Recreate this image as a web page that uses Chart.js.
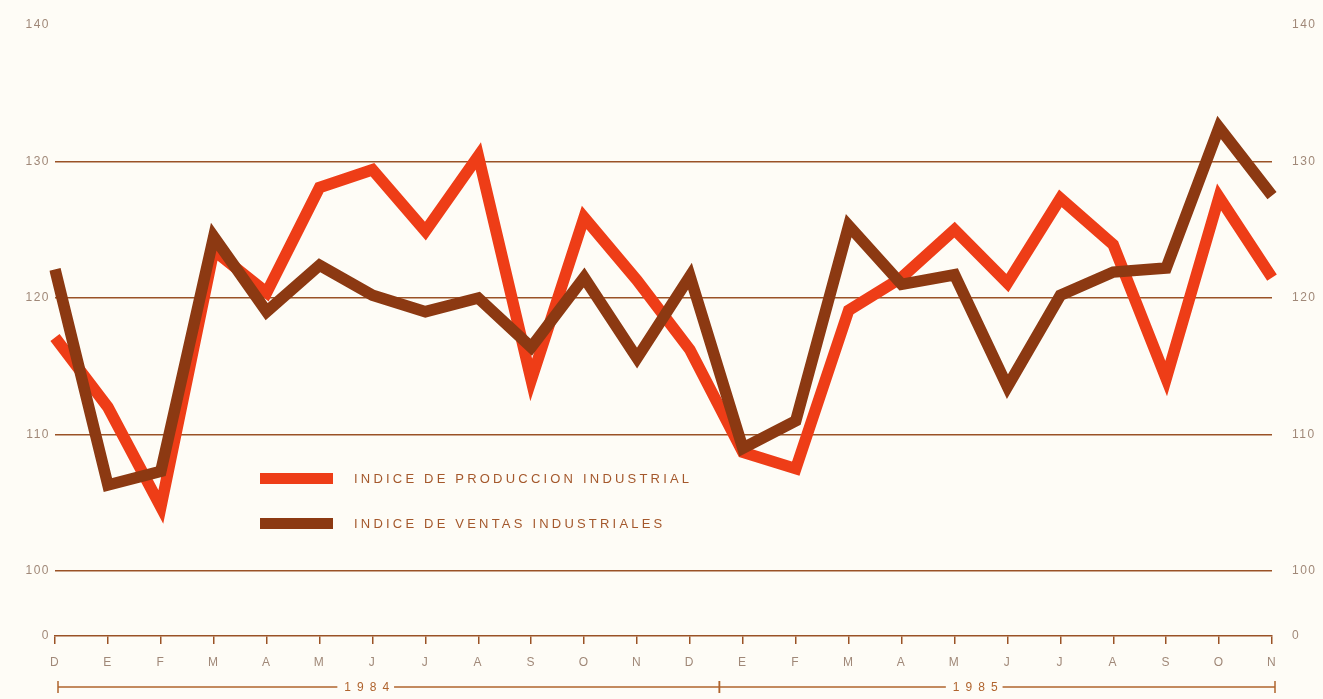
<!DOCTYPE html>
<html>
<head>
<meta charset="utf-8">
<script src="https://cdn.jsdelivr.net/npm/chart.js@4"></script>
<style>
  html, body { margin: 0; padding: 0; background: #fefcf6; }
  #wrap { width: 1323px; height: 699px; }
</style>
</head>
<body>
<div id="wrap"><canvas id="indices"></canvas></div>
<script>
// months Dec 1983 .. Nov 1985
var meses = ["D", "E", "F", "M", "A", "M", "J", "J", "A", "S", "O", "N",
             "D", "E", "F", "M", "A", "M", "J", "J", "A", "S", "O", "N"];
var produccion = [117.1, 112.0, 104.7, 123.5, 120.4, 128.1, 129.4, 124.9, 130.4, 114.0, 125.9, 121.3,
                  116.2, 108.7, 107.5, 119.1, 121.5, 125.0, 121.1, 127.3, 123.9, 114.1, 127.4, 121.5];
var ventas = [122.1, 106.3, 107.3, 124.5, 119.0, 122.4, 120.2, 119.0, 120.0, 116.4, 121.5, 115.6,
              121.6, 109.0, 111.0, 125.3, 121.0, 121.7, 113.5, 120.2, 121.9, 122.2, 132.5, 127.5];
var yTicks = [100, 110, 120, 130, 140];
var years = [{ text: "1984", from: 0, to: 12.5 }, { text: "1985", from: 12.5, to: 23 }];
var seriesNames = ["INDICE DE PRODUCCION INDUSTRIAL", "INDICE DE VENTAS INDUSTRIALES"];

var Y_BREAK = 95.24; // broken axis: bottom line stands for 0
var ORANGE = "#ee3d17";
var BROWN = "#8c3912";
var GRID = "#9a5226";
var TEXT = "#a08878";

function yTickList(scale) {
  scale.ticks = [{ value: Y_BREAK }].concat(yTicks.map(function (v) { return { value: v }; }));
}
function yLabel(v) { return v === Y_BREAK ? "0" : v; }

var spacing = {
  id: "spacing",
  beforeDraw: function (chart) { chart.ctx.letterSpacing = "1.5px"; }
};

// year brackets + legend drawn under the x axis / inside the plot
var extras = {
  id: "extras",
  afterDraw: function (chart) {
    var ctx = chart.ctx, x = chart.scales.x;
    ctx.save();
    var yy = 687;
    ctx.strokeStyle = "#b0642e";
    ctx.lineWidth = 1.5;
    ctx.font = "12px 'Liberation Sans'";
    ctx.letterSpacing = "6px";
    ctx.fillStyle = "#b0642e";
    ctx.textBaseline = "middle";
    years.forEach(function (yr) {
      var a = x.getPixelForValue(yr.from) + 3, b = x.getPixelForValue(yr.to) + 3;
      var mid = (a + b) / 2 - 22;
      var w = ctx.measureText(yr.text).width;
      ctx.beginPath();
      ctx.moveTo(a, yy); ctx.lineTo(mid - w / 2 - 4, yy);
      ctx.moveTo(mid + w / 2 + 2, yy); ctx.lineTo(b, yy);
      ctx.moveTo(a, yy - 6); ctx.lineTo(a, yy + 6);
      ctx.moveTo(b, yy - 6); ctx.lineTo(b, yy + 6);
      ctx.stroke();
      ctx.textAlign = "center";
      ctx.fillText(yr.text, mid + 3, yy + 1);
    });

    // legend
    var items = [{ c: ORANGE, y: 478 }, { c: BROWN, y: 523 }];
    ctx.font = "13px 'Liberation Sans'";
    ctx.letterSpacing = "3.2px";
    ctx.textAlign = "left";
    items.forEach(function (it, i) {
      ctx.fillStyle = it.c;
      ctx.fillRect(260, it.y - 5, 73, 11);
      ctx.fillStyle = "#a4582c";
      ctx.fillText(seriesNames[i], 354, it.y + 1);
    });
    ctx.restore();
  }
};

var tickFont = { family: "Liberation Sans", size: 12 };

var ctx = document.getElementById("indices").getContext("2d");
new Chart(ctx, {
  type: "line",
  data: {
    labels: meses,
    datasets: [
      { label: seriesNames[0], data: produccion, borderColor: ORANGE, order: 2 },
      { label: seriesNames[1], data: ventas, borderColor: BROWN, order: 1 }
    ]
  },
  options: {
    responsive: true,
    maintainAspectRatio: false,
    animation: false,
    layout: { padding: { top: 25, left: 0, right: 0, bottom: 0 } },
    elements: {
      line: { borderWidth: 11.5, tension: 0, borderJoinStyle: "miter", borderCapStyle: "butt" },
      point: { radius: 0 }
    },
    plugins: { legend: { display: false }, tooltip: { enabled: false } },
    scales: {
      x: {
        type: "category",
        offset: false,
        afterFit: function (s) { s.height = 63; },
        grid: { drawOnChartArea: false, drawTicks: true, tickLength: 8, color: GRID, lineWidth: 1.5 },
        border: { display: true, color: GRID, width: 1.5 },
        ticks: { color: TEXT, font: tickFont, padding: 11, maxRotation: 0, autoSkip: false }
      },
      y: {
        position: "left",
        min: Y_BREAK,
        max: 140,
        afterBuildTicks: yTickList,
        afterFit: function (s) { s.width = 55; },
        grid: {
          drawTicks: false,
          color: function (c) { return (c.tick && (c.tick.value === 140 || c.tick.value === Y_BREAK)) ? "rgba(0,0,0,0)" : GRID; },
          lineWidth: 1.5
        },
        border: { display: false },
        ticks: { color: TEXT, font: tickFont, padding: 5, callback: yLabel }
      },
      y2: {
        position: "right",
        min: Y_BREAK,
        max: 140,
        afterBuildTicks: yTickList,
        afterFit: function (s) { s.width = 51; },
        grid: { display: false },
        border: { display: false },
        ticks: { color: TEXT, font: tickFont, padding: 12, callback: yLabel }
      }
    }
  },
  plugins: [spacing, extras]
});
</script>
</body>
</html>
